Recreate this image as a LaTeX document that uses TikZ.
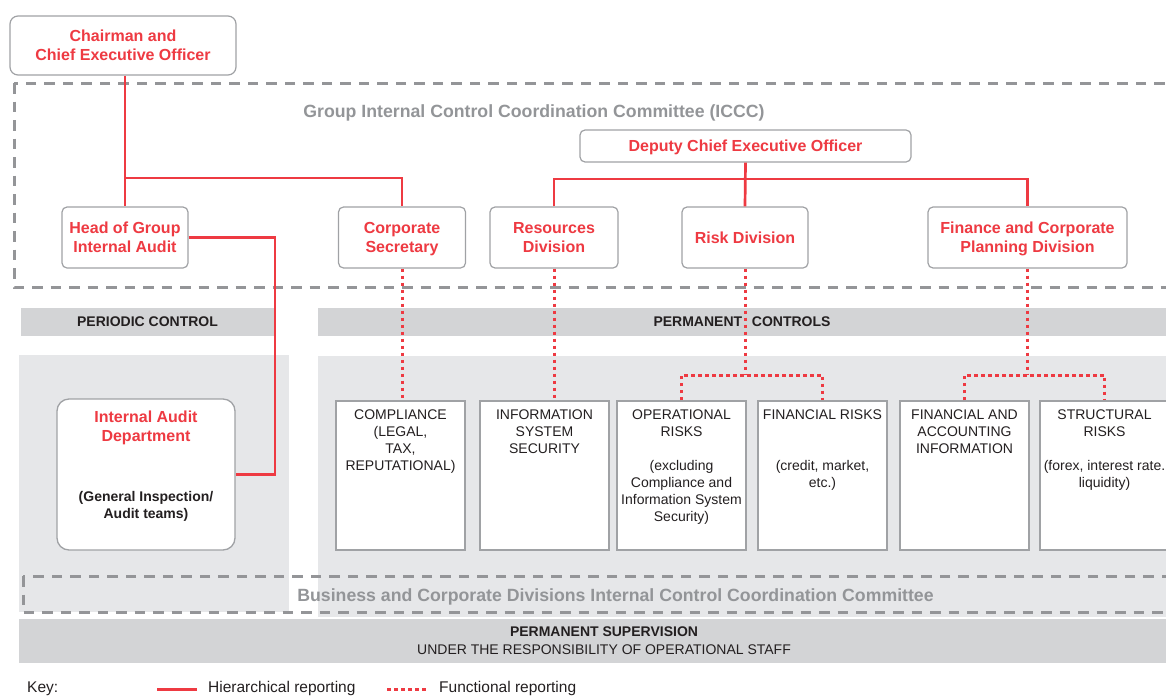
\documentclass[tikz,border=0pt]{standalone}
\usepackage{fontspec}
\setmainfont{Liberation Sans}
\definecolor{cred}{RGB}{238,58,66}
\definecolor{txtgray}{RGB}{147,149,152}
\definecolor{dashgray}{RGB}{148,149,152}
\definecolor{boxgray}{RGB}{160,162,165}
\definecolor{bardark}{RGB}{211,212,214}
\definecolor{barlight}{RGB}{230,231,233}
\definecolor{ink}{RGB}{35,31,32}
\tikzset{
  redbox/.style={draw=boxgray, line width=1.2pt, rounded corners=5pt, fill=white,
    text=cred, font=\bfseries\fontsize{16}{19}\selectfont, align=center, inner sep=0pt,
    minimum height=61pt, text depth=0pt},
  ctrlbox/.style={draw=boxgray, line width=1.3pt, fill=white, inner sep=0pt,
    minimum width=129pt, minimum height=149pt},
  ctrltext/.style={anchor=north, inner sep=0pt, align=center, text=ink,
    font=\fontsize{14}{17}\selectfont},
  bar/.style={fill=bardark, inner sep=0pt, minimum height=28pt, text=ink,
    font=\bfseries\fontsize{14}{18}\selectfont, align=center},
  panel/.style={fill=barlight},
  committee/.style={draw=dashgray, line width=3pt, dash pattern=on 10.5pt off 8pt},
  committeetext/.style={text=txtgray, font=\bfseries\fontsize{17.7}{20}\selectfont, inner sep=0pt},
  hier/.style={draw=cred, line width=2.7pt},
  func/.style={draw=cred, line width=3pt, dash pattern=on 3.5pt off 3.5pt},
  keytext/.style={anchor=base west, inner sep=0pt, text=ink, font=\fontsize{15.5}{18}\selectfont}
}
\begin{document}
\begin{tikzpicture}[x=1pt,y=-1pt]
\useasboundingbox (0,0) rectangle (1166,696);
\clip (0,0) rectangle (1166,696);

% background panels
\fill[panel] (19,355) rectangle (289,612);
\fill[panel] (318,356) rectangle (1180,617);

% bars
\node[bar, minimum width=253pt] (pc) at (147.5,322) {PERIODIC CONTROL};
\node[bar, minimum width=848pt] (pmc) at (742,322) {PERMANENT\hspace{0.7em}CONTROLS};
\node[bar, minimum width=1170pt, minimum height=44pt, font=\fontsize{14}{18}\selectfont] (ps) at (604,641)
  {\textbf{PERMANENT SUPERVISION}\\UNDER THE RESPONSIBILITY OF OPERATIONAL STAFF};

% committees
\draw[committee] (14,83) rectangle (1190,287);
\draw[committee] (23,576) rectangle (1190,612.5);
\node[committeetext] (iccc) at (534,112.5) {Group Internal Control Coordination Committee (ICCC)};
\node[committeetext] (bcd) at (615.5,596.5) {Business and Corporate Divisions Internal Control Coordination Committee};

% top nodes
\node[redbox, rounded corners=8pt, minimum width=226pt, minimum height=59pt] (chair) at (123,45.5)
  {Chairman and\\Chief Executive Officer};
\node[redbox, minimum width=331pt, minimum height=32pt] (dceo) at (745.5,146) {Deputy Chief Executive Officer};
\node[redbox, minimum width=126pt] (hia) at (125,237.5) {Head of Group\\Internal Audit};
\node[redbox, minimum width=127pt] (cs) at (402,237.5) {Corporate\\Secretary};
\node[redbox, minimum width=128pt] (res) at (554,237.5) {Resources\\Division};
\node[redbox, minimum width=126pt] (risk) at (745,237.5) {Risk Division};
\node[redbox, minimum width=199pt] (fin) at (1027.5,237.5) {Finance and Corporate\\Planning Division};

% internal audit department
\node[draw=boxgray, line width=1.3pt, rounded corners=12pt, fill=white, inner sep=0pt,
  minimum width=178pt, minimum height=151pt] (iad) at (146,474.5) {};
\node[inner sep=0pt, align=center, text=cred, font=\bfseries\fontsize{16}{19}\selectfont] (iadt) at (146,427.5)
  {Internal Audit\\Department};
\node[inner sep=0pt, align=center, text=ink, font=\bfseries\fontsize{14}{17}\selectfont] (iadt2) at (146,506.5)
  {(General Inspection/\\Audit teams)};

% control boxes
\node[ctrlbox] (comp) at (400.5,475.5) {};
\node[ctrlbox] (iss) at (544.5,475.5) {};
\node[ctrlbox] (oprisk) at (681.5,475.5) {};
\node[ctrlbox] (finrisk) at (822.5,475.5) {};
\node[ctrlbox] (fai) at (964.5,475.5) {};
\node[ctrlbox] (struct) at (1104.5,475.5) {};

\node[ctrltext] (compt) at (400.5,410) {COMPLIANCE\\(LEGAL,\\TAX,\\REPUTATIONAL)};
\node[ctrltext] (isst) at (544.5,410) {INFORMATION\\SYSTEM\\SECURITY};
\node[ctrltext] (oprt) at (681.5,410) {OPERATIONAL\\RISKS\\[17pt](excluding\\Compliance and\\Information System\\Security)};
\node[ctrltext] (finrt) at (822.5,410) {FINANCIAL RISKS\\[34pt](credit, market,\\etc.)};
\node[ctrltext] (fait) at (964.5,410) {FINANCIAL AND\\ACCOUNTING\\INFORMATION};
\node[ctrltext] (strt) at (1104.5,410) {STRUCTURAL\\RISKS\\[17pt](forex, interest rate.\\liquidity)};

% hierarchical connectors
\coordinate (cj) at (125,178);
\coordinate (dj) at (745,179);
\coordinate (auditbend) at (275,300);
\draw[hier] (hia.north |- chair.south) -- (hia.north);
\draw[hier] (cj) -| (cs.north);
\draw[hier] (dceo.south) -- (risk.north);
\draw[hier] (res.north) |- (dj) -| (fin.north);
\draw[hier] (hia.east) -| (auditbend) |- (iad.east);

% functional connectors
\coordinate (rj) at (745,375);
\coordinate (fj) at (1027.5,375);
\draw[func] (cs.south) -- (cs.south |- comp.north);
\draw[func] (res.south) -- (res.south |- iss.north);
\draw[func] (risk.south) -- (rj);
\draw[func] (oprisk.north) |- (rj) -| (finrisk.north);
\draw[func] (fin.south) -- (fj);
\draw[func] (fai.north) |- (fj) -| (struct.north);

% key
\node[keytext] (key) at (27,692) {Key:};
\coordinate (h1) at (157,689);
\coordinate (h2) at (197,689);
\draw[hier, line width=3pt] (h1) -- (h2);
\node[keytext] (hl) at (208,692) {Hierarchical reporting};
\coordinate (f1) at (387,689);
\coordinate (f2) at (427,689);
\draw[func] (f1) -- (f2);
\node[keytext] (fl) at (439,692) {Functional reporting};
\end{tikzpicture}
\end{document}
